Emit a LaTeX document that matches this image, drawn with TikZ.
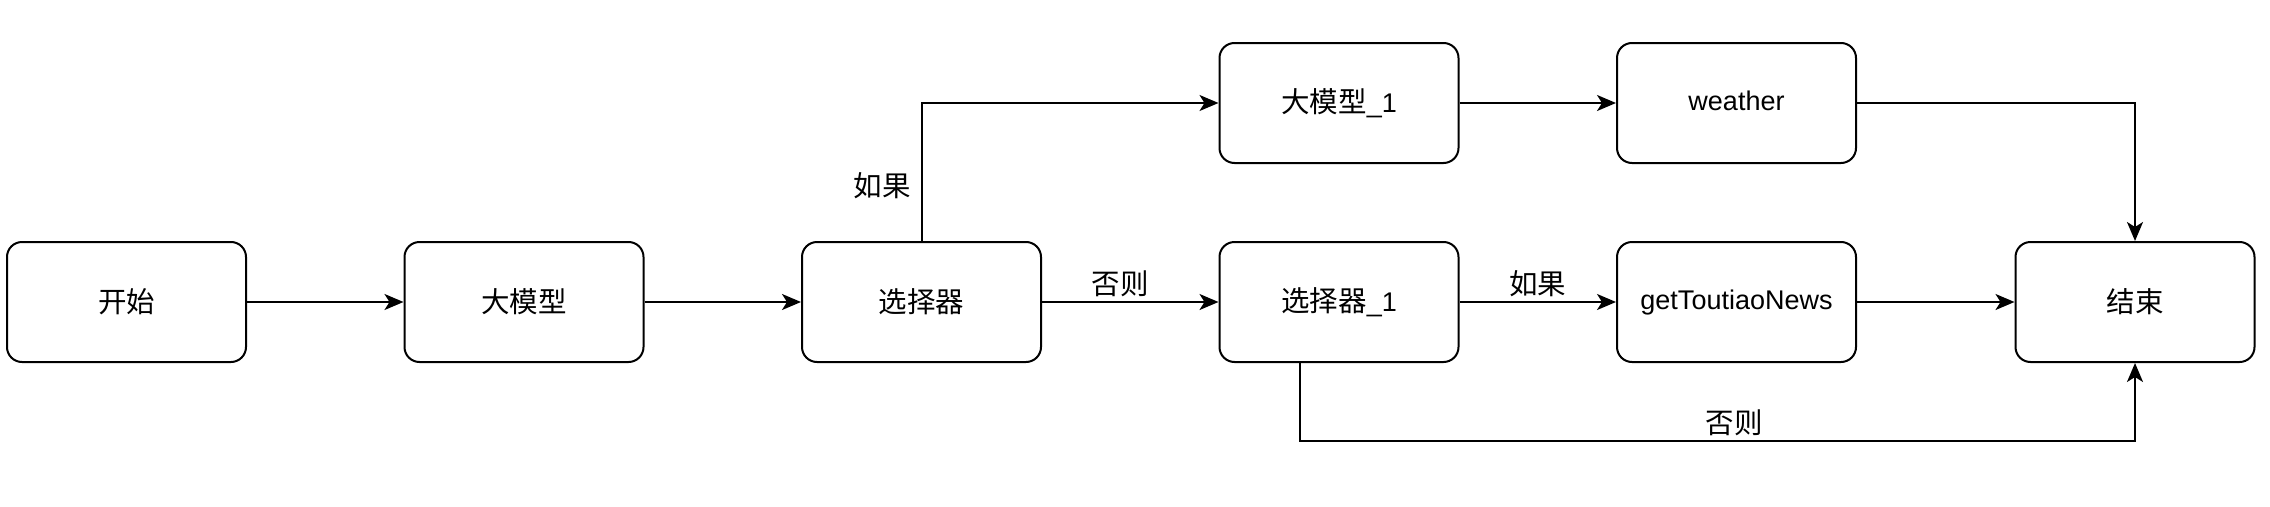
\documentclass[tikz,border=0pt]{standalone}
\usepackage{fontspec}
\setmainfont{Liberation Sans}
\newfontfamily\cjk{Noto Sans CJK SC}
\newcommand{\zh}[1]{{\cjk\fontsize{28.5}{32}\selectfont #1}}
\usetikzlibrary{arrows.meta}

\begin{document}
\begin{tikzpicture}[x = 1pt, y = -1pt,
	box/.style = {draw, line width = 2pt, rounded corners = 15pt,
		minimum width = 239pt, minimum height = 120pt,
		font = \fontsize{27}{32}\selectfont},
	word/.style = {text height = 20pt, text depth = 6pt},
	flow/.style = {line width = 2pt, -{Stealth[length = 19pt, width = 16pt, inset = 5pt]}},
	lbl/.style = {font = \fontsize{28.5}{32}\cjk, inner sep = 4pt}]
	\useasboundingbox (0,0) rectangle (2270,506);
	
	% nodes
	\node[box] (start)  at (126.5,302)  {\zh{开始}};
	\node[box] (llm)    at (524,302)    {\zh{大模型}};
	\node[box] (sel)    at (921.5,302)  {\zh{选择器}};
	\node[box] (sel1)   at (1339,302)   {\zh{选择器}\_1};
	\node[box] (llm1)   at (1339,103)   {\zh{大模型}\_1};
	\node[box, word] (weather) at (1736.5,103) {weather};
	\node[box, word] (news)    at (1736.5,302) {getToutiaoNews};
	\node[box] (end)    at (2135,302)   {\zh{结束}};
	
	\coordinate (detour) at (1300,441);
	
	% connectors
	\draw[flow] (start) -- (llm);
	\draw[flow] (llm) -- (sel);
	\draw[flow] (sel.north) |- node[lbl, left, pos = 0.2, xshift = -6pt] (ifa) {如果} (llm1.west);
	\draw[flow] (sel) -- node[lbl, above, xshift = -10pt] (elsea) {否则} (sel1);
	\draw[flow] (llm1) -- (weather);
	\draw[flow] (weather.east) -| (end.north);
	\draw[flow] (sel1) -- node[lbl, above] (ifb) {如果} (news);
	\draw[flow] (news) -- (end);
	\draw[flow] (sel1.south -| detour) -- (detour) -| node[lbl, above, pos = 0.26] (elseb) {否则} (end.south);
	
\end{tikzpicture}
\end{document}
